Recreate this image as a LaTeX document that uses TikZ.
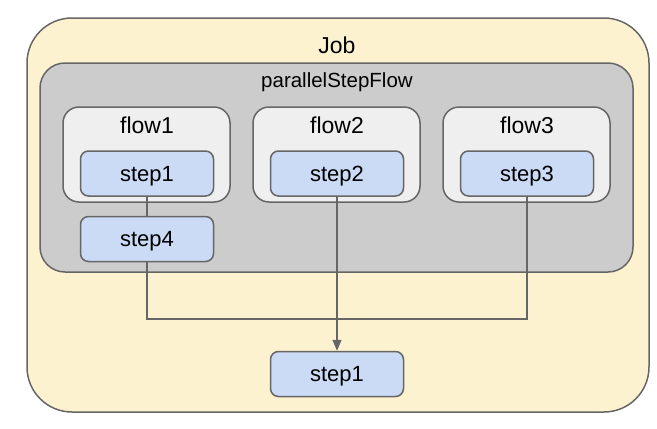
\documentclass[tikz,border=0pt]{standalone}
\usepackage{fontspec}
\setmainfont{Liberation Sans}
\usetikzlibrary{arrows.meta}
\definecolor{jobfill}{HTML}{FDF2CF}
\definecolor{psfill}{HTML}{CCCCCC}
\definecolor{flowfill}{HTML}{EFEFEF}
\definecolor{stepfill}{HTML}{CBDAF5}
\definecolor{edge}{HTML}{666666}
\tikzset{
  box/.style={draw=edge, line width=1.5pt, rounded corners=#1},
  lbl/.style={inner sep=0pt, text depth=0pt},
  stepbox/.style={box=8pt, fill=stepfill, minimum width=133pt, minimum height=45pt, inner sep=0pt, text depth=0pt, font=\fontsize{22}{26}\selectfont},
  conn/.style={draw=edge, line width=1.3pt},
}
\begin{document}
\begin{tikzpicture}[x=1pt,y=-1pt]
\useasboundingbox (0,0) rectangle (657,429);
\fill[white] (0,0) rectangle (657,429);
% Job
\draw[box=45pt, fill=jobfill] (27,18) rectangle (649,412);
\node[lbl, font=\fontsize{23}{26}\selectfont] (jobt) at (337,45.5) {Job};
% parallelStepFlow
\draw[box=25pt, fill=psfill] (40,63) rectangle (633,272);
\node[lbl, font=\fontsize{20.5}{24}\selectfont] (pst) at (337,80.3) {parallelStepFlow};
% flows
\draw[box=16pt, fill=flowfill] (63,107) rectangle (230,202);
\draw[box=16pt, fill=flowfill] (253,107) rectangle (420,202);
\draw[box=16pt, fill=flowfill] (443,107) rectangle (610,202);
\node[lbl, font=\fontsize{23}{26}\selectfont] (f1) at (147,125.5) {flow1};
\node[lbl, font=\fontsize{23}{26}\selectfont] (f2) at (337,125.5) {flow2};
\node[lbl, font=\fontsize{23}{26}\selectfont] (f3) at (527,125.5) {flow3};
% steps
\node[stepbox] (s1) at (147,173.5) {step1};
\node[stepbox] (s2) at (337,173.5) {step2};
\node[stepbox] (s3) at (527,173.5) {step3};
\node[stepbox] (s4) at (147,239) {step4};
\node[stepbox] (sb) at (337,374) {step1};
% connectors
\coordinate (jl) at (147,319);
\coordinate (jr) at (527,319);
\draw[conn] (s1.south) -- (s4.north);
\draw[conn] (s4.south) -- (jl) -- (jr) -- (s3.south);
\draw[conn, -{Triangle[length=11pt,width=9pt]}] (s2.south) -- (sb.north);
\end{tikzpicture}
\end{document}
